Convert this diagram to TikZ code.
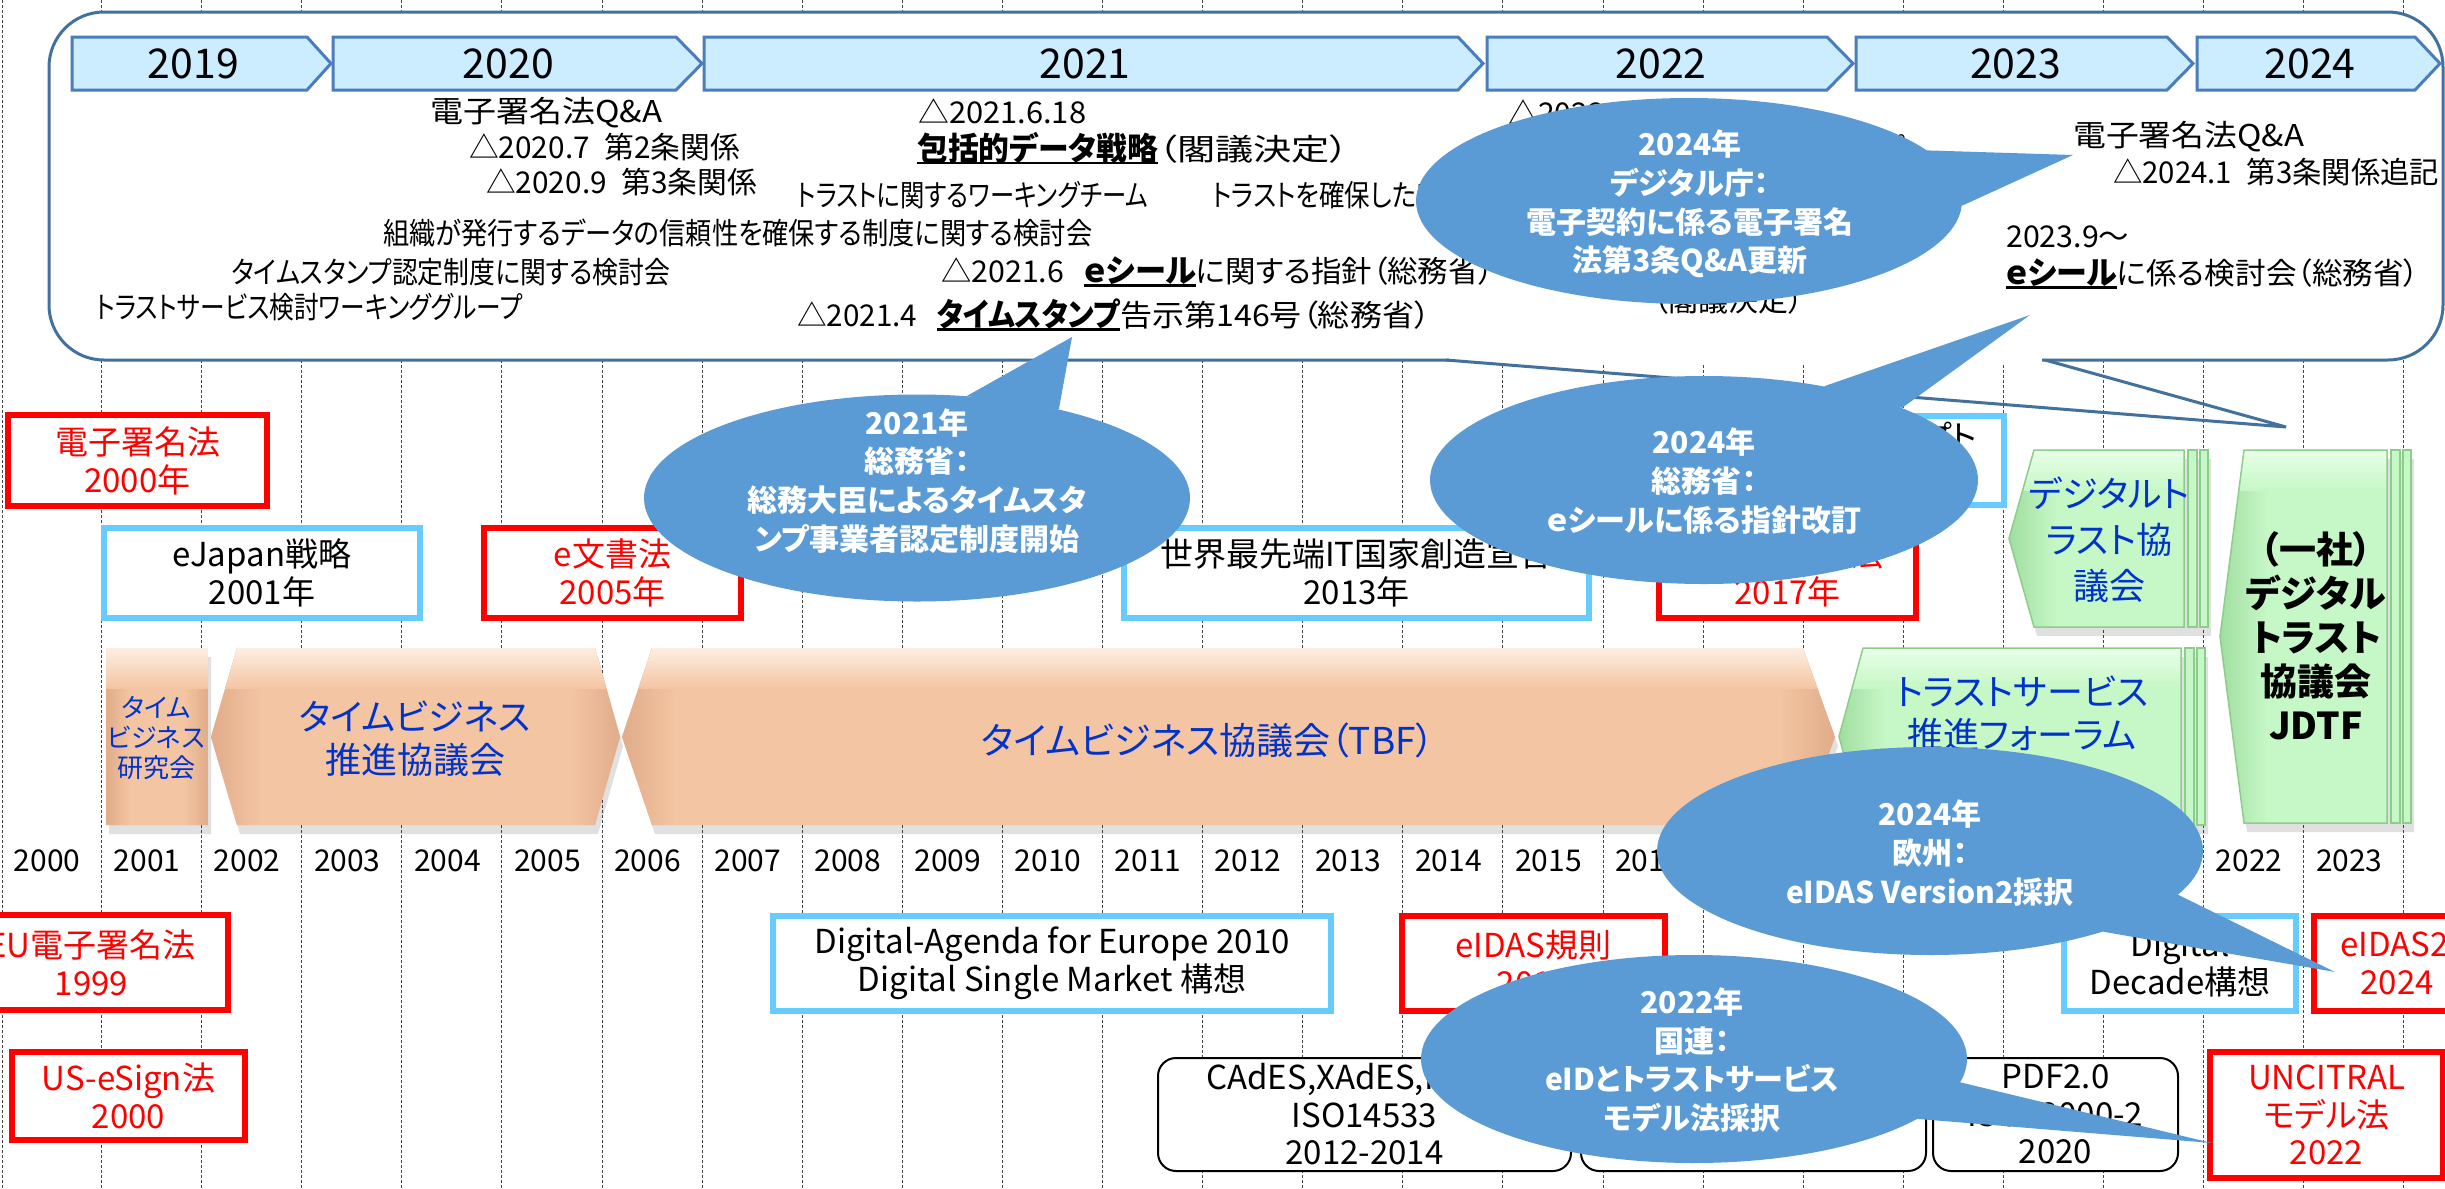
\documentclass[tikz,border=0pt]{standalone}
\usepackage{graphicx}
\usepackage{fontspec}
\setmainfont{Noto Sans CJK JP}[RawFeature={+palt}]
\usetikzlibrary{shapes.geometric}
\definecolor{bub}{RGB}{91,155,213}
\definecolor{boxline}{RGB}{65,113,156}
\definecolor{arrfill}{RGB}{204,236,255}
\definecolor{arrline}{RGB}{74,126,187}
\definecolor{lblue}{RGB}{102,204,255}
\definecolor{peach}{RGB}{244,197,163}
\definecolor{peachd}{RGB}{224,172,137}
\definecolor{peachl}{RGB}{253,238,224}
\definecolor{gfill}{RGB}{198,247,198}
\definecolor{gfilll}{RGB}{232,255,232}
\definecolor{gfilld}{RGB}{160,222,160}
\definecolor{gline}{RGB}{140,205,140}
\definecolor{tblue}{RGB}{0,51,204}
\definecolor{gridc}{RGB}{70,70,70}
\newcommand{\ulx}[1]{\setbox0\hbox{#1}\rlap{\rule[-4pt]{\wd0}{2.5pt}}\box0}
\newcommand{\fitw}[2]{\resizebox{#1pt}{\height}{#2}}
\newcommand{\yarrow}[4]{%
  \draw[yarrst] (#1,37) -- (#2,37) -- (#3,63.5) -- (#2,90) -- (#1,90) -- cycle;
  \node[yrtxt] (yr#4) at ({(#1+#2)/2+4},64) {#4};}
\newcommand{\orshape}[4]{%
  \begin{scope}[shift={(3,9)}]
    \fill[black,opacity=.12] (#1,737) -- (#2,648) -- (#3,648) -- (#4,737) -- (#3,825) -- (#2,825) -- cycle;
  \end{scope}
  \begin{scope}
    \clip (#1,737) -- (#2,648) -- (#3,648) -- (#4,737) -- (#3,825) -- (#2,825) -- cycle;
    \fill[peach] (#1,640) rectangle (#4,830);
    \shade[left color=peachd, right color=peach] (#1,640) rectangle ({#2+24},830);
    \shade[left color=peach, right color=peachd] ({#3-24},640) rectangle (#4,830);
    \shade[top color=peachl, bottom color=peach] (#1,648) rectangle (#4,688);
  \end{scope}}
\newcommand{\grshape}[5]{%
  \begin{scope}[shift={(3,9)}]
    \fill[black,opacity=.12] (#1,{(#4+#5)/2}) -- (#2,#4) -- ({#3+24},#4) -- ({#3+24},#5) -- (#2,#5) -- cycle;
  \end{scope}
  \filldraw[fill=gfill, draw=gline, line width=1.5pt] ({#3+4},#4) rectangle ({#3+13},#5);
  \filldraw[fill=gfill, draw=gline, line width=1.5pt] ({#3+16},#4) rectangle ({#3+24},#5);
  \begin{scope}
    \clip (#1,{(#4+#5)/2}) -- (#2,#4) -- (#3,#4) -- (#3,#5) -- (#2,#5) -- cycle;
    \fill[gfill] (#1,#4) rectangle (#3,#5);
    \shade[left color=gfilld, right color=gfill] (#1,#4) rectangle ({#2+22},#5);
    \shade[top color=gfilll, bottom color=gfill] (#1,#4) rectangle (#3,{#4+40});
  \end{scope}
  \draw[gline, line width=1.5pt] (#1,{(#4+#5)/2}) -- (#2,#4) -- (#3,#4) -- (#3,#5) -- (#2,#5) -- cycle;}
\begin{document}
\begin{tikzpicture}[x=1pt,y=-1pt,
  gridln/.style={gridc, line width=1pt, dash pattern=on 3pt off 2pt},
  yarrst/.style={fill=arrfill, draw=arrline, line width=3pt},
  yrtxt/.style={inner sep=0pt, font=\fontsize{41}{48}\selectfont},
  tx/.style={anchor=west, inner sep=0pt, font=\fontsize{30}{34}\selectfont},
  redbox/.style={draw=red, line width=6pt, fill=white, text=red, align=center, inner sep=0pt, font=\fontsize{33}{38}\selectfont},
  bluebox/.style={draw=lblue, line width=6pt, fill=white, text=black, align=center, inner sep=0pt, font=\fontsize{33}{38}\selectfont},
  rbox/.style={draw=black, line width=2pt, fill=white, rounded corners=18pt, align=center, inner sep=0pt, font=\fontsize{33}{37.5}\selectfont},
  ylab/.style={inner sep=0pt, font=\fontsize{30}{36}\selectfont},
  shtxt/.style={text=tblue, align=center, inner sep=0pt},
  bubble/.style={ellipse, fill=bub, inner sep=0pt},
  bubtxt/.style={text=white, align=center, inner sep=0pt, font=\bfseries\fontsize{30}{38.8}\selectfont}]
\useasboundingbox (0,0) rectangle (2445,1189);
\fill[white] (0,0) rectangle (2445,1189);
% grid
\draw[gridln] (2,0) -- (2,1189);
\foreach \k in {0,...,23}{\draw[gridln] ({101.5+100.1*\k},0) -- ({101.5+100.1*\k},1189);}
% big rounded box with tail
\draw[boxline, line width=3pt, fill=white, rounded corners=55pt] (49,12) rectangle (2443,360);
\fill[white] (1449,357.4) rectangle (2042,362.6);
\coordinate (tA) at (1446,360);
\coordinate (tB) at (2045,360);
\coordinate (tT) at (2286,427);
\draw[boxline, line width=3pt, line join=miter] (tA) -- (tT) -- (tB);
% year arrows
\yarrow{72}{307}{331}{2019}
\yarrow{333}{676}{702}{2020}
\yarrow{704}{1458}{1483}{2021}
\yarrow{1487}{1827}{1853}{2022}
\yarrow{1856}{2167}{2193}{2023}
\yarrow{2197}{2415}{2440}{2024}
% texts in box
\node[tx] (q1) at (430,113) {\fitw{232}{電子署名法Q\&A}};
\node[tx] (q1a) at (469,147) {\fitw{271}{△2020.7\enspace 第2条関係}};
\node[tx] (q1b) at (486,182) {\fitw{271}{△2020.9\enspace 第3条関係}};
\node[tx] (wg1) at (797,195) {\fitw{351}{トラストに関するワーキングチーム}};
\node[tx] (kt1) at (383,233) {\fitw{709}{組織が発行するデータの信頼性を確保する制度に関する検討会}};
\node[tx] (kt2) at (231,272) {\fitw{439}{タイムスタンプ認定制度に関する検討会}};
\node[tx] (wg0) at (96,307) {\fitw{426}{トラストサービス検討ワーキンググループ}};
\node[tx] (d1) at (918,111) {\fitw{168}{△2021.6.18}};
\node[tx] (d2) at (917,148) {\fitw{241}{\bfseries\fontsize{32}{36}\selectfont\ulx{包括的データ戦略}}\fitw{191}{（閣議決定）}};
\node[tx] (wg2) at (1212,195) {\scalebox{0.85}[1]{トラストを確保したDX推進サブワーキンググループ}};
\node[tx] (d3) at (941,272) {\fitw{123}{△2021.6}\hspace{20pt}\fitw{112}{\bfseries\fontsize{32}{36}\selectfont\ulx{ｅシール}}\fitw{298}{に関する指針（総務省）}};
\node[tx] (d4) at (797,315) {\fitw{120}{△2021.4}\hspace{20pt}\fitw{183}{\bfseries\fontsize{32}{36}\selectfont\ulx{タイムスタンプ}}\fitw{310}{告示第146号（総務省）}};
\node[tx] (d5) at (1508,112) {△2022.5};
\node[tx, anchor=east] (d6) at (1905,148) {ワーキンググループ};
\node[tx] (d7) at (1653,300) {（閣議決定）};
\node[tx] (r1) at (2073,137) {\fitw{231}{電子署名法Q\&A}};
\node[tx] (r2) at (2113,172) {\fitw{326}{△2024.1\enspace 第3条関係追記}};
\node[tx] (r3) at (2006,237) {\fitw{123}{2023.9～}};
\node[tx] (r4) at (2006,274) {\fitw{111}{\bfseries\fontsize{32}{36}\selectfont\ulx{ｅシール}}\fitw{302}{に係る検討会（総務省）}};
% middle boxes
\node[redbox, minimum width=259pt, minimum height=91pt] (n2000) at (137.5,460.5) {電子署名法\\2000年};
\node[bluebox, minimum width=304pt, minimum height=89pt] (nsoc) at (1852,460.5) {};
\node[anchor=east, inner sep=0pt, font=\fontsize{33}{38}\selectfont] (nsoct) at (1977,440) {Society5.0コンセプト};
\node[inner sep=0pt, font=\fontsize{33}{38}\selectfont] (nsocy) at (1852,480) {2016年};
\node[bluebox, minimum width=316pt, minimum height=90pt] (nej) at (262,573) {eJapan戦略\\2001年};
\node[redbox, minimum width=257pt, minimum height=90pt] (nedoc) at (612.5,573) {e文書法\\2005年};
\node[bluebox, minimum width=465pt, minimum height=90pt] (nit) at (1356.5,573) {世界最先端IT国家創造宣言\\2013年};
\node[redbox, minimum width=257pt, minimum height=90pt] (n2017) at (1787.5,573) {官民データ法\\2017年};
% orange shapes
\orshape{106}{106}{208}{208}
\orshape{211}{237}{595}{620}
\orshape{622}{652}{1803}{1835}
\node[shtxt, font=\fontsize{26}{30}\selectfont] (s1) at (156,738) {タイム\\ビジネス\\研究会};
\node[shtxt, font=\fontsize{36}{43}\selectfont] (s2) at (415,739) {タイムビジネス\\推進協議会};
\node[shtxt, font=\fontsize{37}{44}\selectfont] (s3) at (1208,740) {タイムビジネス協議会（TBF）};
% green shapes
\grshape{1839}{1863}{2181}{648}{825}
\grshape{2009}{2034}{2184}{450}{627}
\grshape{2220}{2244}{2387}{450}{823}
\node[shtxt, font=\fontsize{36}{43}\selectfont] (g1) at (2022,714) {トラストサービス\\推進フォーラム};
\node[shtxt, font=\fontsize{36}{46}\selectfont] (g2) at (2109,540) {デジタルト\\ラスト協\\議会};
\node[align=center, inner sep=0pt, font=\bfseries\fontsize{37}{44}\selectfont] (g3) at (2316,636) {（一社）\\デジタル\\トラスト\\協議会\\JDTF};
% year labels
\foreach \i in {0,...,23}{\pgfmathtruncatemacro\yr{2000+\i}\node[ylab] (yl\i) at ({47+100.1*\i},861) {\yr};}
% lower boxes
\node[redbox, minimum width=273pt, minimum height=95pt] (neu) at (91.5,962.5) {EU電子署名法\\1999};
\node[redbox, minimum width=233pt, minimum height=88pt] (nus) at (128.5,1096) {US-eSign法\\2000};
\node[bluebox, minimum width=558pt, minimum height=95pt] (nda) at (1052,963.5) {Digital-Agenda for Europe 2010\\Digital Single Market 構想};
\node[redbox, minimum width=263pt, minimum height=95pt] (neidas) at (1533.5,963.5) {eIDAS規則\\2014};
\node[bluebox, minimum width=232pt, minimum height=95pt] (ndd) at (2180,963.5) {Digital\\Decade構想};
\node[redbox, minimum width=166pt, minimum height=95pt] (neidas2) at (2397,963.5) {\hspace*{22pt}eIDAS2.0\\2024};
\node[rbox, minimum width=413pt, minimum height=113pt] (ncades) at (1364.5,1114.5) {CAdES,XAdES,PAdES\\ISO14533\\2012-2014};
\node[rbox, minimum width=345pt, minimum height=113pt] (nmid) at (1753.5,1114.5) {};
\node[rbox, minimum width=245pt, minimum height=113pt] (npdf) at (2055.5,1114.5) {PDF2.0\\ISO32000-2\\2020};
\node[redbox, minimum width=233pt, minimum height=126pt, font=\fontsize{33}{37.5}\selectfont] (nun) at (2326.5,1115) {UNCITRAL\\モデル法\\2022};
% bubbles
\node[bubble, minimum width=546pt, minimum height=206pt] (b1) at (1689,201) {};
\fill[bub] (b1.12) -- (2073,155) -- (b1.-1) -- cycle;
\node[bubtxt] (b1t) at (1690,204) {2024年\\デジタル庁：\\電子契約に係る電子署名\\法第3条Q\&A更新};
\node[bubble, minimum width=546pt, minimum height=207pt] (b2) at (917,498) {};
\fill[bub] (b2.64) -- (1072,337) -- (b2.32) -- cycle;
\node[bubtxt] (b2t) at (917,481) {2021年\\総務省：\\総務大臣によるタイムスタ\\ンプ事業者認定制度開始};
\node[bubble, minimum width=548pt, minimum height=208pt] (b3) at (1704,480) {};
\fill[bub] (b3.38) -- (2030,315) -- (b3.20) -- cycle;
\node[bubtxt] (b3t) at (1704,481) {2024年\\総務省：\\ｅシールに係る指針改訂};
\node[bubble, minimum width=546pt, minimum height=208pt] (b4) at (1930,851) {};
\fill[bub] (b4.-10) -- (2335,972) -- (b4.-25) -- cycle;
\node[bubtxt] (b4t) at (1930,853) {2024年\\欧州：\\eIDAS Version2採択};
\node[bubble, minimum width=546pt, minimum height=208pt] (b5) at (1694,1059) {};
\fill[bub] (b5.-5) -- (2212,1143) -- (b5.-15) -- cycle;
\node[bubtxt] (b5t) at (1692,1060) {2022年\\国連：\\eIDとトラストサービス\\モデル法採択};
\end{tikzpicture}
\end{document}
